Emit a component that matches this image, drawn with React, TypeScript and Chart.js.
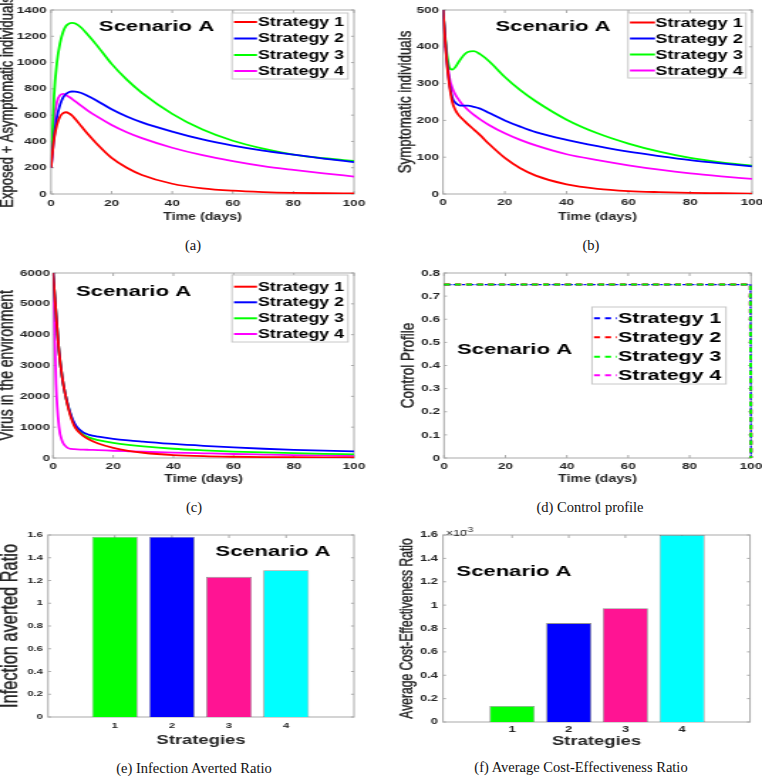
import React, { useEffect, useRef } from 'react';
import { Chart, registerables } from 'chart.js';

Chart.register(...registerables);

// ---------------- DATA ----------------
const STRATEGIES = ['Strategy 1', 'Strategy 2', 'Strategy 3', 'Strategy 4'];
const SCENARIO = 'Scenario A';
const TIME_TICKS = [0, 20, 40, 60, 80, 100];

// (a) Exposed + Asymptomatic individuals
const T_EA = [0, 1, 2, 3, 4, 5, 6, 7, 8, 10, 12, 15, 20, 25, 30, 40, 50, 60, 70, 80, 90, 100];
const EA_S1 = [200, 420, 530, 590, 615, 622, 612, 595, 570, 515, 460, 385, 275, 200, 145, 78, 43, 25, 15, 9, 6, 4];
const EA_S2 = [200, 430, 590, 680, 735, 762, 776, 780, 779, 768, 748, 712, 645, 590, 545, 475, 415, 368, 330, 300, 270, 243];
const EA_S3 = [200, 750, 1010, 1150, 1235, 1280, 1298, 1302, 1297, 1265, 1215, 1135, 990, 870, 770, 610, 490, 405, 345, 300, 272, 252];
const EA_S4 = [200, 560, 705, 752, 762, 752, 738, 722, 705, 670, 637, 592, 525, 470, 425, 352, 295, 250, 212, 183, 157, 133];
const EA_YTICKS = [0, 200, 400, 600, 800, 1000, 1200, 1400];

// (b) Symptomatic individuals
const T_SYM = [0, 1, 2, 3, 4, 5, 6, 7, 8, 10, 12, 15, 20, 25, 30, 40, 50, 60, 70, 80, 90, 100];
const SYM_S1 = [500, 380, 300, 250, 228, 215, 206, 198, 190, 175, 160, 135, 98, 70, 50, 26, 14, 8, 5, 3, 2, 1];
const SYM_S2 = [500, 385, 305, 262, 248, 242, 240, 240, 240, 237, 232, 220, 200, 183, 168, 147, 130, 115, 103, 92, 83, 75];
const SYM_S3 = [500, 400, 345, 338, 345, 358, 370, 380, 386, 388, 380, 360, 318, 282, 252, 202, 165, 137, 115, 98, 86, 77];
const SYM_S4 = [500, 390, 320, 288, 270, 257, 246, 237, 229, 215, 203, 187, 165, 147, 132, 108, 92, 78, 66, 56, 48, 41];
const SYM_YTICKS = [0, 100, 200, 300, 400, 500];

// (c) Virus in the environment
const T_VIR = [0, 1, 2, 3, 4, 5, 6, 7, 8, 10, 12, 15, 20, 25, 30, 40, 50, 60, 70, 80, 90, 100];
const VIR_S1 = [6000, 4700, 3450, 2650, 2100, 1650, 1300, 1050, 900, 720, 600, 470, 330, 235, 170, 95, 58, 40, 30, 25, 22, 20];
const VIR_S2 = [6000, 4700, 3450, 2650, 2100, 1700, 1380, 1150, 1000, 830, 750, 690, 620, 570, 530, 455, 395, 345, 300, 265, 238, 215];
const VIR_S3 = [6000, 4700, 3450, 2650, 2100, 1680, 1350, 1100, 940, 760, 660, 580, 490, 425, 375, 300, 250, 210, 180, 155, 135, 120];
const VIR_S4 = [6000, 2400, 1000, 560, 400, 320, 295, 288, 282, 272, 265, 255, 235, 218, 202, 175, 152, 130, 112, 95, 82, 70];
const VIR_YTICKS = [0, 1000, 2000, 3000, 4000, 5000, 6000];

// (d) Control profile
const T_CTRL = [0, 99.8, 100];
const CTRL_S1 = [0.75, 0.75, 0];
const CTRL_S2 = [0.75, 0.75, 0];
const CTRL_S3 = [0.75, 0.75, 0];
const CTRL_S4 = [0.75, 0.75, 0];
const CTRL_YTICKS = [0, 0.1, 0.2, 0.3, 0.4, 0.5, 0.6, 0.7, 0.8];

// (e) Infection averted ratio, (f) ACER
const BAR_CATS = [1, 2, 3, 4];
const IAR_VALUES = [1.585, 1.585, 1.232, 1.29];
const IAR_YTICKS = [0, 0.2, 0.4, 0.6, 0.8, 1, 1.2, 1.4, 1.6];
const ACER_VALUES = [0.137e-3, 0.846e-3, 0.974e-3, 1.6e-3];
const ACER_YTICKS = [0, 0.2e-3, 0.4e-3, 0.6e-3, 0.8e-3, 1e-3, 1.2e-3, 1.4e-3, 1.6e-3];

// ---------------- STYLE ----------------
const S = 1.42; // horizontal stretch of each panel image
const FONT = "'Liberation Sans', Arial, Helvetica, sans-serif";
const SERIF = "'Liberation Serif', 'Times New Roman', serif";
const INK = '#262626';
const AXIS = '#a9a9a9';
const LINE_COLORS = ['#ff0000', '#0000ff', '#00ff00', '#ff00ff'];
const CTRL_COLORS = ['#0000ff', '#ff0000', '#00ff00', '#ff00ff'];
const BAR_COLORS = ['#00ff00', '#0000ff', '#ff1493', '#00ffff'];

type Legend = { x1: number; x2: number; y1: number; y2: number; rows: number[]; s1: number; s2: number; tx: number; size: number; dash?: number[] };
type Layout = {
  left: number; top: number; w: number; h: number;
  area: { l: number; r: number; t: number; b: number };
  yTitle: { text: string; size: number; cx: number };
  xTitle: { text: string; size: number; cy: number };
  yTickSize: number; yGap: number; xTickSize: number; xTickCy: number;
  scenario: { cx: number; by: number };
  legend?: Legend;
  exponent?: boolean;
};

const decor = {
  id: 'decor',
  beforeDatasetsDraw(chart: any, _a: any, o: any) {
    const sx: number = o.sx;
    const X = (v: number) => v / sx;
    const ctx: CanvasRenderingContext2D = chart.ctx;
    const { left, right, top, bottom } = chart.chartArea;
    ctx.save();
    ctx.setLineDash([]);
    ctx.strokeStyle = AXIS;
    ctx.lineWidth = 1;
    ctx.strokeRect(left, top, right - left, bottom - top);
    const tl = 3;
    ctx.beginPath();
    const xs = chart.scales.x, ys = chart.scales.y;
    for (const t of xs.ticks) {
      const p = xs.getPixelForValue(t.value);
      ctx.moveTo(p, bottom); ctx.lineTo(p, bottom - tl);
      ctx.moveTo(p, top); ctx.lineTo(p, top + tl);
    }
    for (const t of ys.ticks) {
      const p = ys.getPixelForValue(t.value);
      ctx.moveTo(left, p); ctx.lineTo(left + X(tl), p);
      ctx.moveTo(right, p); ctx.lineTo(right - X(tl), p);
    }
    ctx.stroke();
    ctx.restore();
  },
  afterDraw(chart: any, _a: any, o: any) {
    const lay: Layout = o.lay;
    const sx: number = o.sx;
    const X = (v: number) => v / sx;
    const ctx: CanvasRenderingContext2D = chart.ctx;
    const { left, right, top, bottom } = chart.chartArea;
    ctx.save();
    ctx.setLineDash([]);
    // axis titles
    ctx.fillStyle = INK;
    ctx.strokeStyle = INK;
    ctx.lineWidth = 0.35;
    ctx.textAlign = 'center';
    ctx.textBaseline = 'middle';
    ctx.font = `${lay.yTitle.size}px ${FONT}`;
    ctx.save();
    ctx.translate(X(lay.yTitle.cx), (top + bottom) / 2);
    ctx.rotate(-Math.PI / 2);
    ctx.fillText(lay.yTitle.text, 0, 0);
    ctx.strokeText(lay.yTitle.text, 0, 0);
    ctx.restore();
    ctx.font = `bold ${lay.xTitle.size}px ${FONT}`;
    ctx.fillText(lay.xTitle.text, (left + right) / 2, lay.xTitle.cy);
    // legend
    const L = lay.legend;
    if (L) {
      ctx.fillStyle = '#ffffff';
      ctx.fillRect(X(L.x1), L.y1, X(L.x2 - L.x1), L.y2 - L.y1);
      ctx.strokeStyle = '#c8c8c8';
      ctx.lineWidth = 1;
      ctx.strokeRect(X(L.x1), L.y1, X(L.x2 - L.x1), L.y2 - L.y1);
      chart.data.datasets.forEach((ds: any, i: number) => {
        const y = L.rows[i];
        ctx.strokeStyle = ds.borderColor;
        ctx.lineWidth = 2;
        ctx.setLineDash(L.dash ? L.dash.map(X) : []);
        ctx.beginPath();
        ctx.moveTo(X(L.s1), y); ctx.lineTo(X(L.s2), y);
        ctx.stroke();
        ctx.setLineDash([]);
        ctx.fillStyle = '#000';
        ctx.font = `bold ${L.size}px ${FONT}`;
        ctx.textAlign = 'left';
        ctx.textBaseline = 'middle';
        ctx.fillText(ds.label, X(L.tx), y + 0.5);
      });
    }
    // scenario label
    ctx.fillStyle = '#000';
    ctx.font = `bold 15.5px ${FONT}`;
    ctx.textAlign = 'center';
    ctx.textBaseline = 'alphabetic';
    ctx.fillText(SCENARIO, X(lay.scenario.cx), lay.scenario.by);
    // exponent
    if (lay.exponent) {
      ctx.fillStyle = INK;
      ctx.textAlign = 'left';
      ctx.font = `8.5px ${FONT}`;
      ctx.fillText('\u00d710', X(65), 14);
      ctx.font = `7px ${FONT}`;
      ctx.fillText('-3', X(83.3), 10);
    }
    ctx.restore();
  },
};

function scales(lay: Layout, iw: number, sx: number, xTicks: number[], yTicks: number[], xMin: number, xMax: number, xFmt: (v: number) => string, yFmt: (v: number) => string) {
  const X = (v: number) => v / sx;
  return {
    x: {
      type: 'linear', min: xMin, max: xMax, offset: false,
      grid: { display: false, drawTicks: false, tickLength: 0 }, border: { display: false },
      afterBuildTicks: (s: any) => { s.ticks = xTicks.map((v) => ({ value: v })); },
      afterFit: (s: any) => { s.height = lay.h - lay.area.b; s.paddingLeft = 0; s.paddingRight = 0; },
      ticks: {
        autoSkip: false, maxRotation: 0, minRotation: 0,
        padding: lay.xTickCy - lay.area.b - lay.xTickSize / 2,
        color: INK, font: { family: FONT, size: lay.xTickSize, weight: 'bold', lineHeight: 1 },
        callback: (v: any) => xFmt(Number(v)),
      },
    },
    y: {
      type: 'linear', min: yTicks[0], max: yTicks[yTicks.length - 1],
      grid: { display: false, drawTicks: false, tickLength: 0 }, border: { display: false },
      afterBuildTicks: (s: any) => { s.ticks = yTicks.map((v) => ({ value: v })); },
      afterFit: (s: any) => { s.width = X(lay.area.l); s.paddingTop = 0; s.paddingBottom = 0; },
      ticks: {
        autoSkip: false, padding: X(lay.yGap),
        color: INK, font: { family: FONT, size: lay.yTickSize, weight: 'bold', lineHeight: 1 },
        callback: (v: any) => yFmt(Number(v)),
      },
    },
  };
}

function baseOptions(lay: Layout, iw: number, sx: number, sc: any) {
  return {
    responsive: false,
    animation: false,
    devicePixelRatio: 1,
    events: [],
    layout: { padding: { left: 0, top: lay.area.t, right: iw - lay.area.r / sx, bottom: 0 } },
    plugins: { legend: { display: false }, tooltip: { enabled: false }, decor: { lay, sx } },
    scales: sc,
  };
}

const fmtInt = (v: number) => String(Math.round(v));
const fmt1 = (v: number) => String(+v.toFixed(1));
const fmtMilli = (v: number) => String(+(v * 1000).toFixed(1));

function lineCfg(lay: Layout, iw: number, sx: number, time: number[], series: number[][], yTicks: number[], yFmt: (v: number) => string, control = false) {
  const colors = control ? CTRL_COLORS : LINE_COLORS;
  const datasets = series.map((vals, i) => {
    const ds: any = {
      label: STRATEGIES[i],
      data: time.map((t, j) => ({ x: t, y: vals[j] })),
      borderColor: colors[i],
      borderWidth: 1.8,
      pointRadius: 0,
      fill: false,
      tension: control ? 0 : 0.4,
      cubicInterpolationMode: control ? 'default' : 'monotone',
    };
    if (control) {
      ds.borderWidth = i === 0 ? 1.2 : 2;
      ds.borderDash = i === 0 ? [3 / sx, 1.5 / sx] : [6 / sx, 5 / sx];
      ds.order = [1, 2, 0, 3][i];
      ds.clip = 4;
    }
    return ds;
  });
  return {
    type: 'line',
    data: { datasets },
    options: baseOptions(lay, iw, sx, scales(lay, iw, sx, TIME_TICKS, yTicks, 0, 100, fmtInt, yFmt)),
    plugins: [decor],
  };
}

function barCfg(lay: Layout, iw: number, sx: number, values: number[], yTicks: number[], yFmt: (v: number) => string, xMin: number, xMax: number) {
  return {
    type: 'bar',
    data: {
      datasets: [{
        label: 'ratio',
        data: BAR_CATS.map((c, i) => ({ x: c, y: values[i] })),
        backgroundColor: BAR_COLORS,
        borderColor: 'rgba(60,60,60,0.55)',
        borderWidth: 0.8,
        categoryPercentage: 1,
        barPercentage: 0.8,
      }],
    },
    options: baseOptions(lay, iw, sx, scales(lay, iw, sx, BAR_CATS, yTicks, xMin, xMax, fmtInt, yFmt)),
    plugins: [decor],
  };
}

const LAY_A: Layout = {
  left: 0, top: 0, w: 381, h: 228, area: { l: 51, r: 354, t: 10, b: 194 },
  yTitle: { text: 'Exposed + Asymptomatic individuals', size: 13, cx: 7 },
  xTitle: { text: 'Time (days)', size: 10, cy: 217 },
  yTickSize: 9.5, yGap: 4.3, xTickSize: 9.5, xTickCy: 203,
  scenario: { cx: 156.5, by: 31 },
  legend: { x1: 232, x2: 348, y1: 13, y2: 79, rows: [22, 38.5, 55, 71], s1: 234, s2: 257, tx: 258, size: 12.5 },
};
const LAY_B: Layout = {
  left: 381, top: 0, w: 381, h: 228, area: { l: 62, r: 371, t: 10, b: 194 },
  yTitle: { text: 'Symptomatic individuals', size: 13.3, cx: 25 },
  xTitle: { text: 'Time (days)', size: 10, cy: 217 },
  yTickSize: 9.5, yGap: 4, xTickSize: 9.5, xTickCy: 202.5,
  scenario: { cx: 172, by: 31 },
  legend: { x1: 247, x2: 365, y1: 13, y2: 78, rows: [22.5, 38.5, 54.5, 70.5], s1: 249, s2: 274, tx: 274.5, size: 12.7 },
};
const LAY_C: Layout = {
  left: 0, top: 262, w: 381, h: 228, area: { l: 53, r: 354, t: 11, b: 196 },
  yTitle: { text: 'Virus in the environment', size: 14, cx: 8 },
  xTitle: { text: 'Time (days)', size: 10, cy: 217 },
  yTickSize: 9.5, yGap: 3, xTickSize: 9.5, xTickCy: 204,
  scenario: { cx: 133.5, by: 34 },
  legend: { x1: 232, x2: 348, y1: 13, y2: 80, rows: [24.7, 40.3, 56.3, 72], s1: 234, s2: 257, tx: 258, size: 12.5 },
};
const LAY_D: Layout = {
  left: 381, top: 262, w: 381, h: 228, area: { l: 63, r: 370, t: 11, b: 196 },
  yTitle: { text: 'Control Profile', size: 13.5, cx: 28 },
  xTitle: { text: 'Time (days)', size: 10, cy: 217 },
  yTickSize: 9.5, yGap: 4, xTickSize: 9.5, xTickCy: 204,
  scenario: { cx: 133.5, by: 92 },
  legend: { x1: 211, x2: 345, y1: 45, y2: 122, rows: [56.3, 75.3, 94.7, 113.3], s1: 213, s2: 236, tx: 237, size: 15, dash: [6, 5] },
};
const LAY_E: Layout = {
  left: 0, top: 522, w: 381, h: 232, area: { l: 48, r: 354, t: 13, b: 195 },
  yTitle: { text: 'Infection averted Ratio', size: 16.4, cx: 10 },
  xTitle: { text: 'Strategies', size: 13, cy: 218.5 },
  yTickSize: 8, yGap: 5, xTickSize: 8, xTickCy: 204,
  scenario: { cx: 273, by: 34 },
};
const LAY_F: Layout = {
  left: 381, top: 522, w: 381, h: 232, area: { l: 62, r: 369, t: 13, b: 200 },
  yTitle: { text: 'Average Cost-Effectiveness Ratio', size: 12.1, cx: 27 },
  xTitle: { text: 'Strategies', size: 13, cy: 219.5 },
  yTickSize: 9, yGap: 5, xTickSize: 9, xTickCy: 208,
  scenario: { cx: 133, by: 54 },
  exponent: true,
};

const CAPTIONS = [
  { text: '(a)', cx: 193, cy: 245 },
  { text: '(b)', cx: 591, cy: 245 },
  { text: '(c)', cx: 194, cy: 507 },
  { text: '(d) Control profile', cx: 590, cy: 507 },
  { text: '(e) Infection Averted Ratio', cx: 194, cy: 768 },
  { text: '(f) Average Cost-Effectiveness Ratio', cx: 581, cy: 767 },
];

type Maker = (lay: Layout, iw: number, sx: number) => any;

const PANELS: { lay: Layout; make: Maker }[] = [
  { lay: LAY_A, make: (l, iw, sx) => lineCfg(l, iw, sx, T_EA, [EA_S1, EA_S2, EA_S3, EA_S4], EA_YTICKS, fmtInt) },
  { lay: LAY_B, make: (l, iw, sx) => lineCfg(l, iw, sx, T_SYM, [SYM_S1, SYM_S2, SYM_S3, SYM_S4], SYM_YTICKS, fmtInt) },
  { lay: LAY_C, make: (l, iw, sx) => lineCfg(l, iw, sx, T_VIR, [VIR_S1, VIR_S2, VIR_S3, VIR_S4], VIR_YTICKS, fmtInt) },
  { lay: LAY_D, make: (l, iw, sx) => lineCfg(l, iw, sx, T_CTRL, [CTRL_S1, CTRL_S2, CTRL_S3, CTRL_S4], CTRL_YTICKS, fmt1, true) },
  { lay: LAY_E, make: (l, iw, sx) => barCfg(l, iw, sx, IAR_VALUES, IAR_YTICKS, fmt1, -0.17, 5.19) },
  { lay: LAY_F, make: (l, iw, sx) => barCfg(l, iw, sx, ACER_VALUES, ACER_YTICKS, fmtMilli, -0.22, 5.2) },
];

function Panel({ lay, make }: { lay: Layout; make: Maker }) {
  const ref = useRef<HTMLCanvasElement>(null);
  const iw = Math.round(lay.w / S);
  const sx = lay.w / iw;
  useEffect(() => {
    const chart = new Chart(ref.current as HTMLCanvasElement, make(lay, iw, sx));
    return () => chart.destroy();
  }, []);
  return (
    <canvas
      ref={ref}
      width={iw}
      height={lay.h}
      style={{ position: 'absolute', left: lay.left, top: lay.top, width: `${lay.w}px`, height: `${lay.h}px` }}
    />
  );
}

export default function App() {
  return (
    <div style={{ position: 'fixed', left: 0, top: 0, width: 762, height: 776, background: '#ffffff', overflow: 'hidden' }}>
      {PANELS.map((p, i) => <Panel key={i} lay={p.lay} make={p.make} />)}
      {CAPTIONS.map((c) => (
        <div
          key={c.text}
          style={{
            position: 'absolute', left: c.cx - 200, width: 400, top: c.cy - 9, height: 18,
            lineHeight: '18px', textAlign: 'center', fontFamily: SERIF, fontSize: '14.5px', color: '#111',
            whiteSpace: 'nowrap',
          }}
        >
          {c.text}
        </div>
      ))}
    </div>
  );
}
